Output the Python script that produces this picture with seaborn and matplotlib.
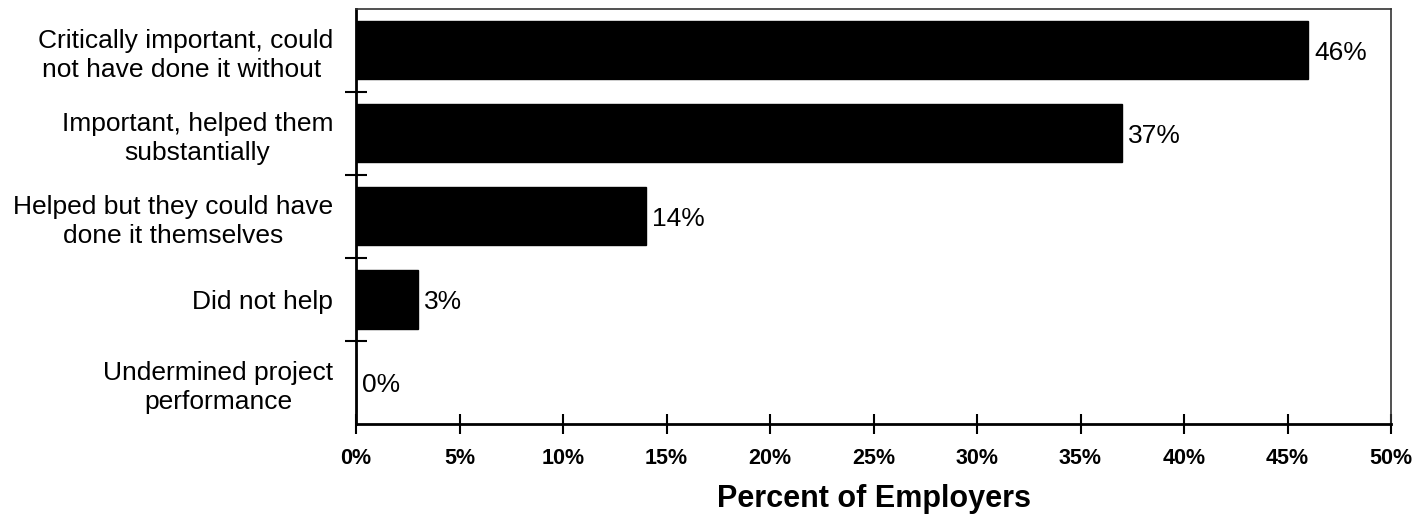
import matplotlib
matplotlib.use("Agg")
import matplotlib.pyplot as plt
import seaborn as sns
import pandas as pd

categories = [
    "Critically important, could\nnot have done it without ",
    "Important, helped them\nsubstantially",
    "Helped but they could have\ndone it themselves",
    "Did not help",
    "Undermined project\nperformance",
]
percents = [46, 37, 14, 3, 0]
x_ticks = [0, 5, 10, 15, 20, 25, 30, 35, 40, 45, 50]

sns.set_theme(style="white")
plt.rcParams['font.family'] = ['Liberation Sans', 'DejaVu Sans']
plt.rcParams['text.color'] = 'black'
plt.rcParams['axes.labelcolor'] = 'black'
plt.rcParams['xtick.color'] = 'black'
plt.rcParams['ytick.color'] = 'black'

df = pd.DataFrame({"Category": categories, "Percent": percents})

fig = plt.figure(figsize=(14.27, 5.19), dpi=100)
ax = fig.add_axes([0.2495, 0.183, 0.7253, 0.8])

sns.barplot(data=df, x="Percent", y="Category", color="black",
            saturation=1, width=0.7, ax=ax, edgecolor="black")

ax.set_xlim(0, 50)
ax.set_ylim(4.5, -0.5)
ax.set_xticks(x_ticks)
ax.set_xticklabels([f"{t}%" for t in x_ticks], fontsize=15.5, fontweight="bold")
ax.tick_params(axis="x", direction="inout", length=14, width=1.5,
               color="black", pad=10, bottom=True)

ax.set_yticks(range(len(categories)))
ax.set_yticklabels(categories, fontsize=19, ha="right",
                   multialignment="center", linespacing=1.25)
ax.tick_params(axis="y", which="major", length=0, pad=16.5)
ax.set_yticks([0.5, 1.5, 2.5, 3.5], minor=True)
ax.tick_params(axis="y", which="minor", direction="inout", length=16,
               width=1.5, color="black", left=True)

for i, v in enumerate(percents):
    ax.text(v + 0.3, i + 0.03, f"{v}%", va="center", ha="left", fontsize=19)

ax.set_xlabel("Percent of Employers", fontsize=22, fontweight="bold", labelpad=11)
ax.set_ylabel("")

for side in ["left", "bottom"]:
    ax.spines[side].set_linewidth(2)
    ax.spines[side].set_color("black")
for side in ["top", "right"]:
    ax.spines[side].set_linewidth(1.2)
    ax.spines[side].set_color("#333333")

fig.savefig("out.png", dpi=100)
